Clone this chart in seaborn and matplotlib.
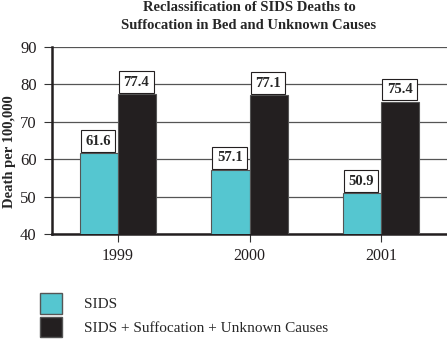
import matplotlib
matplotlib.use("Agg")
import matplotlib.pyplot as plt
import matplotlib.patches as mpatches
import pandas as pd
import seaborn as sns

years = ["1999", "2000", "2001"]
sids = [61.6, 57.1, 50.9]
sids_plus = [77.4, 77.1, 75.4]
series_names = ["SIDS", "SIDS + Suffocation + Unknown Causes"]
colors = ["#55c6d0", "#231f20"]

df = pd.DataFrame({
    "year": years * 2,
    "value": sids + sids_plus,
    "series": [series_names[0]] * 3 + [series_names[1]] * 3,
})

sns.set_style("white")
plt.rcParams["font.family"] = ["Liberation Serif", "DejaVu Serif"]

fig = plt.figure(figsize=(4.47, 3.40), dpi=100)
ax = fig.add_axes([52 / 447, 1 - 234 / 340, 395 / 447, 187 / 340])

sns.barplot(data=df, x="year", y="value", hue="series", palette=colors,
            width=0.58, edgecolor="#555555", linewidth=0.8, saturation=1,
            legend=False, ax=ax, zorder=3)

ax.set_ylim(40, 90)
ax.set_xlim(-0.5, 2.5)
ax.set_yticks([40, 50, 60, 70, 80, 90])
ax.yaxis.grid(True, color="#555555", linewidth=0.9, zorder=0)
ax.set_axisbelow(True)
for s in ["top", "right"]:
    ax.spines[s].set_visible(False)
for s in ["left", "bottom"]:
    ax.spines[s].set_color("#231f20")
    ax.spines[s].set_linewidth(1.8)
ax.tick_params(axis="both", direction="out", length=6, width=0.8,
               color="#333333", labelcolor="#231f20",
               left=True, bottom=True)
ax.tick_params(axis="y", labelsize=12, pad=5)
ax.tick_params(axis="x", labelsize=11.5, pad=4)
ax.set_xlabel("")
ax.set_ylabel("Death per 100,000", fontsize=10.5, fontweight="bold")
ax.yaxis.set_label_coords(-36 / 395, 0.44)

# value boxes sitting on top of each bar
for cont in ax.containers:
    for bar in cont:
        h = bar.get_height()
        ax.annotate(f"{h:.1f}", (bar.get_x(), h), xytext=(4, 4),
                    textcoords="offset points", ha="left", va="bottom",
                    fontsize=10.5, fontweight="bold", zorder=5,
                    bbox=dict(boxstyle="square,pad=0.3", fc="white",
                              ec="#231f20", lw=0.8))

fig.suptitle("Reclassification of SIDS Deaths to\nSuffocation in Bed and Unknown Causes",
             x=249 / 447, y=0.997, fontsize=10.5, fontweight="bold",
             linespacing=1.45, va="top")

handles = [mpatches.Patch(facecolor=c, edgecolor="#555555", label=n)
           for c, n in zip(colors, series_names)]
fig.legend(handles=handles, loc="upper left", bbox_to_anchor=(34 / 447, 1 - 287 / 340),
           frameon=False, fontsize=11, handlelength=1.45, handleheight=1.7,
           handletextpad=1.45, labelspacing=0.2, borderaxespad=0)

fig.savefig("out.png", dpi=100)
